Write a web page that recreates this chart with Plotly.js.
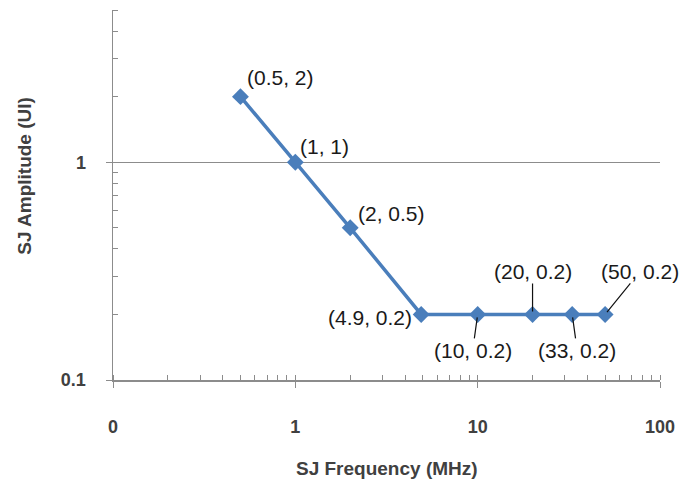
<!DOCTYPE html>
<html>
<head>
<meta charset="utf-8">
<script src="https://cdn.plot.ly/plotly-3.0.1.min.js"></script>
<style>
html,body{margin:0;padding:0;background:#fff;}
#chart{width:699px;height:485px;}
</style>
</head>
<body>
<div id="chart"></div>
<script>
// Data
const freqMHz = [0.5, 1, 2, 4.9, 10, 20, 33, 50];
const amplitudeUI = [2, 1, 0.5, 0.2, 0.2, 0.2, 0.2, 0.2];
const xTickVals = [0.1, 1, 10, 100];
const xTickText = ['0', '1', '10', '100'];
const yTickVals = [0.1, 1];
const yTickText = ['0.1', '1'];

// Label placement (style only)
const labelPlacement = [
  {mode: 'text', xanchor: 'left', xshift: 5, yshift: 19},
  {mode: 'text', xanchor: 'left', xshift: 3, yshift: 16},
  {mode: 'text', xanchor: 'left', xshift: 6, yshift: 14},
  {mode: 'text', xanchor: 'right', xshift: -7, yshift: -3},
  {mode: 'arrow', ax: -5, ay: 36},
  {mode: 'arrow', ax: 0, ay: -43},
  {mode: 'arrow', ax: 5, ay: 36},
  {mode: 'arrow', ax: 35, ay: -43}
];

const blue = '#4A7EBB';
const axisGray = '#8C8C8C';
const labelFont = {family: 'Liberation Sans, Arial, sans-serif', size: 21, color: '#1a1a1a'};

const annotations = freqMHz.map((x, i) => {
  const p = labelPlacement[i];
  const base = {
    x: Math.log10(x), y: Math.log10(amplitudeUI[i]), xref: 'x', yref: 'y',
    text: '(' + x + ', ' + amplitudeUI[i] + ')', font: labelFont
  };
  if (p.mode === 'text') {
    return Object.assign(base, {showarrow: false, xanchor: p.xanchor, yanchor: 'middle', xshift: p.xshift, yshift: p.yshift});
  }
  return Object.assign(base, {showarrow: true, ax: p.ax, ay: p.ay, arrowhead: 0, arrowwidth: 1.2, arrowcolor: '#111', standoff: 3, borderpad: 0});
});

annotations.push({
  text: 'SJ Frequency (MHz)', xref: 'paper', yref: 'paper', x: 0.5, y: 0, yshift: -88,
  xanchor: 'center', yanchor: 'middle', showarrow: false,
  font: {family: 'Liberation Sans, Arial, sans-serif', size: 19, color: '#404040', weight: 'bold'}
});
annotations.push({
  text: 'SJ Amplitude (UI)', xref: 'paper', yref: 'paper', x: 0, xshift: -88, y: 0.552,
  xanchor: 'center', yanchor: 'middle', showarrow: false, textangle: -90,
  font: {family: 'Liberation Sans, Arial, sans-serif', size: 19, color: '#404040', weight: 'bold'}
});

const trace = {
  x: freqMHz, y: amplitudeUI, type: 'scatter', mode: 'lines+markers',
  line: {color: blue, width: 3.5},
  marker: {symbol: 'diamond', size: 13, color: blue},
  hoverinfo: 'x+y', cliponaxis: false
};

const tickFont = {family: 'Liberation Sans, Arial, sans-serif', size: 18, color: '#404040', weight: 'bold'};

const layout = {
  width: 699, height: 485,
  margin: {l: 113, r: 39, t: 10, b: 105, pad: 0},
  paper_bgcolor: '#fff', plot_bgcolor: '#fff',
  showlegend: false,
  xaxis: {
    type: 'log', range: [-1, 2],
    tickmode: 'array', tickvals: xTickVals, ticktext: xTickText,
    ticks: 'outside', ticklen: 6, tickcolor: axisGray, tickwidth: 1,
    ticklabelstandoff: 24,
    showline: true, linecolor: axisGray, linewidth: 1.5,
    showgrid: false, zeroline: false,
    tickfont: tickFont,
    minor: {dtick: 'D1', ticks: 'inside', ticklen: 5, tickcolor: axisGray, showgrid: false}
  },
  yaxis: {
    type: 'log', range: [-1, Math.log10(5)],
    tickmode: 'array', tickvals: yTickVals, ticktext: yTickText,
    ticks: 'outside', ticklen: 6, tickcolor: axisGray, tickwidth: 1,
    ticklabelstandoff: 16,
    showline: true, linecolor: axisGray, linewidth: 1.5,
    showgrid: true, gridcolor: axisGray, gridwidth: 1.2, zeroline: false,
    tickfont: tickFont,
    minor: {dtick: 'D1', ticks: 'inside', ticklen: 5, tickcolor: axisGray, showgrid: false}
  },
  annotations: annotations
};

Plotly.newPlot('chart', [trace], layout, {displayModeBar: false, staticPlot: true});
</script>
</body>
</html>
